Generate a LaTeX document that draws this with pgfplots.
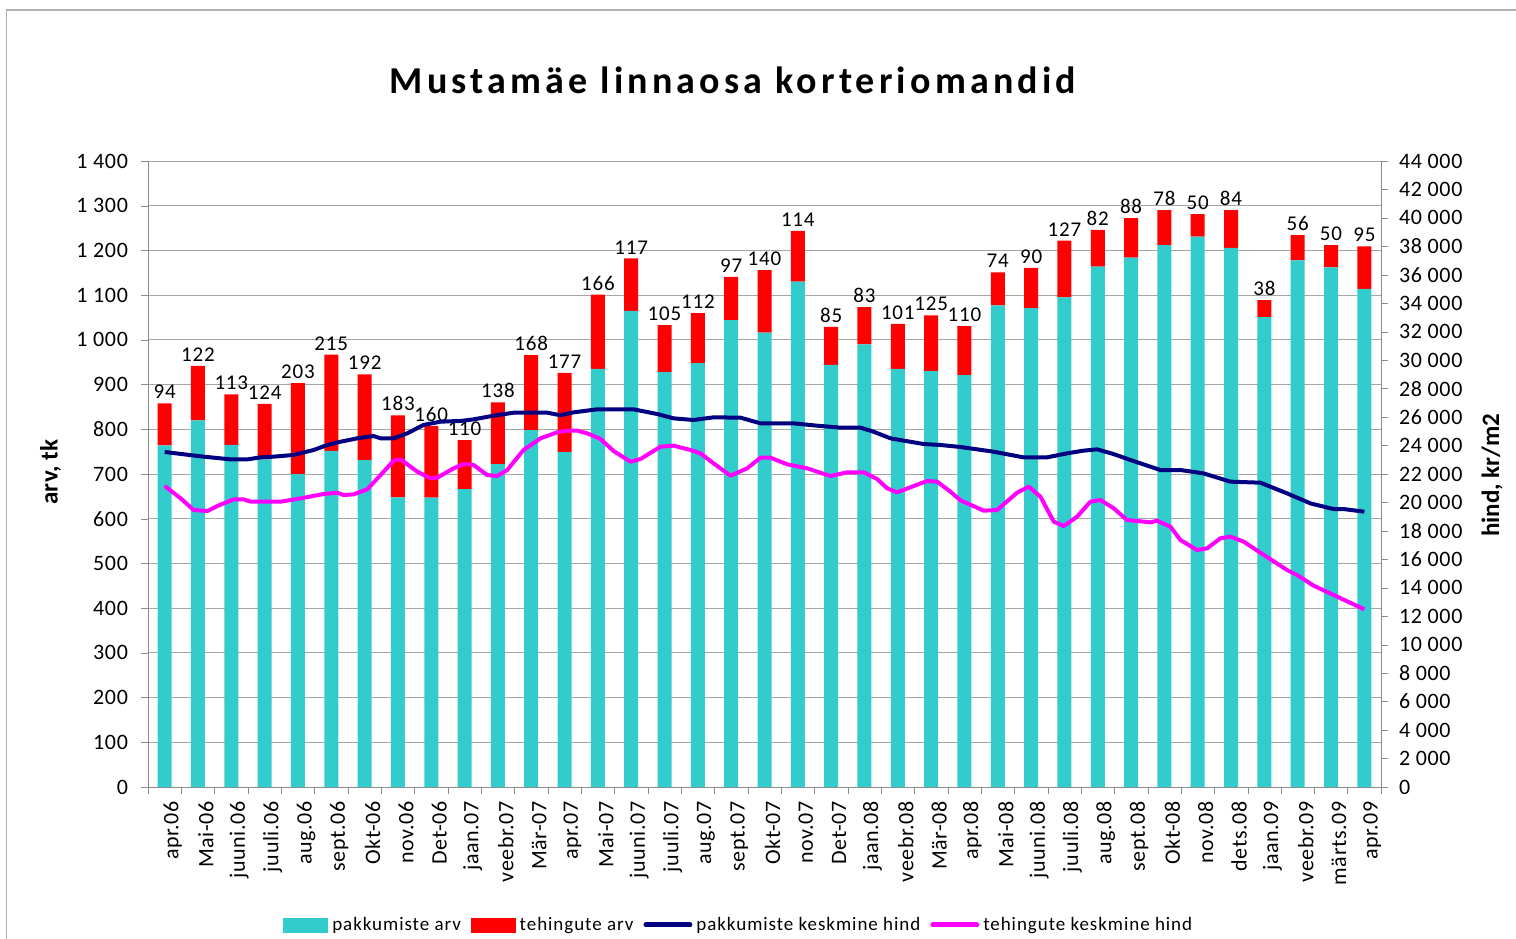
\documentclass[border=0pt]{standalone}
\usepackage{pgfplots}
\usepackage{pgfplotstable}
\pgfplotsset{compat=1.18}
\usepackage{fontspec}
\setmainfont{Carlito}
\definecolor{cyanbar}{RGB}{51,204,204}
\definecolor{redbar}{RGB}{255,0,0}
\definecolor{navyline}{RGB}{0,0,128}
\definecolor{pinkline}{RGB}{255,0,255}
\definecolor{axgray}{RGB}{140,140,140}
\pgfplotsset{/pgf/number format/assume math mode=true}

% x = month index, p = pakkumiste arv, t = tehingute arv
\pgfplotstableread{
x p t
0 764 94
1 820 122
2 765 113
3 733 124
4 700 203
5 752 215
6 731 192
7 648 183
8 647 160
9 666 110
10 722 138
11 798 168
12 749 177
13 935 166
14 1065 117
15 928 105
16 948 112
17 1044 97
18 1016 140
19 1130 114
20 944 85
21 990 83
22 935 101
23 930 125
24 921 110
25 1077 74
26 1071 90
27 1095 127
28 1164 82
29 1184 88
30 1212 78
31 1231 50
32 1206 84
33 1051 38
34 1178 56
35 1162 50
36 1114 95
}\bardata

\begin{document}
\begin{tikzpicture}
\useasboundingbox (0,0) rectangle (758pt,-469pt);
\draw[gray!60, line width=0.7pt] (3.3pt,-475pt) -- (3.3pt,-5pt) -- (765pt,-5pt);
\node[font=\fontsize{19}{22}\selectfont\bfseries\addfontfeatures{LetterSpace=11}] at (366.5pt,-40pt) {Mustamäe linnaosa korteriomandid};

% bars: left axis
\begin{axis}[
  at={(74pt,-393.5pt)}, anchor=south west,
  scale only axis, width=616.5pt, height=313pt,
  xmin=-0.5, xmax=36.5, ymin=0, ymax=1400,
  enlargelimits=false,
  axis x line*=bottom, axis y line*=left,
  axis line style={axgray},
  ybar stacked, bar width=7pt,
  xtick={-0.5,0.5,...,36.5}, xticklabels={},
  ytick={0,100,...,1400},
  tick align=outside, major tick length=3.5pt,
  tick style={axgray},
  ymajorgrids, grid style={gray!70, line width=0.5pt},
  /pgf/number format/1000 sep={\ },
  yticklabel style={font=\fontsize{11}{13}\selectfont\addfontfeatures{LetterSpace=3}, xshift=-3pt},
  ylabel={arv, tk},
  ylabel style={at={(axis description cs:-0.079,0.503)}, anchor=center, font=\fontsize{12.5}{14}\selectfont\bfseries},
]
\addplot[fill=cyanbar, draw=none] table[x=x, y=p] {\bardata};
\addplot[fill=redbar, draw=none] table[x=x, y=t] {\bardata};
\end{axis}

% data labels (tehingute arv) on top of each bar
\begin{axis}[
  at={(74pt,-393.5pt)}, anchor=south west,
  scale only axis, width=616.5pt, height=313pt,
  xmin=-0.5, xmax=36.5, ymin=0, ymax=1400,
  enlargelimits=false, hide axis, clip=false,
]
\addplot[draw=none, mark=none, point meta=\thisrow{t},
  nodes near coords,
  nodes near coords style={font=\fontsize{10.5}{12}\selectfont\addfontfeatures{LetterSpace=4}, anchor=south, inner sep=2pt, text=black}]
  table[x=x, y expr=\thisrow{p}+\thisrow{t}] {\bardata};
\end{axis}

% lines: right axis
\begin{axis}[
  at={(74pt,-393.5pt)}, anchor=south west,
  scale only axis, width=616.5pt, height=313pt,
  xmin=-0.5, xmax=36.5, ymin=0, ymax=44000,
  enlargelimits=false,
  axis x line*=bottom, axis y line*=right,
  x axis line style={draw=none},
  y axis line style={axgray},
  xtick={0,...,36},
  xticklabels={apr.06,Mai-06,juuni.06,juuli.06,aug.06,sept.06,Okt-06,nov.06,Det-06,jaan.07,veebr.07,Mär-07,apr.07,Mai-07,juuni.07,juuli.07,aug.07,sept.07,Okt-07,nov.07,Det-07,jaan.08,veebr.08,Mär-08,apr.08,Mai-08,juuni.08,juuli.08,aug.08,sept.08,Okt-08,nov.08,dets.08,jaan.09,veebr.09,märts.09,apr.09},
  xtick style={draw=none},
  xticklabel style={rotate=90, anchor=east, font=\fontsize{11}{13}\selectfont\addfontfeatures{LetterSpace=3}, yshift=-4pt},
  ytick={0,2000,...,44000},
  tick align=outside, major tick length=3.5pt,
  ytick style={axgray},
  /pgf/number format/1000 sep={\ },
  scaled y ticks=false,
  yticklabel style={font=\fontsize{11}{13}\selectfont\addfontfeatures{LetterSpace=3}, xshift=2pt},
  ylabel={hind, kr/m2},
  ylabel style={at={(axis description cs:1.09,0.498)}, anchor=center, font=\fontsize{12.5}{14}\selectfont\bfseries},
  legend columns=-1,
  legend style={at={(axis description cs:0.48,-0.2204)}, anchor=center, draw=none, fill=none,
    font=\fontsize{9.5}{11}\selectfont\addfontfeatures{LetterSpace=5},
    /tikz/every even column/.append style={column sep=3pt}},
  legend cell align=left,
]
\addlegendimage{legend image code/.code={\fill[cyanbar] (0pt,-3.5pt) rectangle (22pt,3.5pt);}}
\addlegendimage{legend image code/.code={\fill[redbar] (0pt,-3.5pt) rectangle (22pt,3.5pt);}}
\addplot[navyline, line width=2pt, line join=round,
  legend image code/.code={\draw[navyline, line width=2.5pt, line cap=round] (0pt,0pt) -- (22pt,0pt);}]
  coordinates {
(0,23550)(0.98,23270)(1.38,23170)(1.98,23030)(2.48,23030)(2.88,23170)(3.27,23220)(3.87,23340)
(4.47,23690)(4.88,24040)(5.28,24270)(5.78,24510)(6.27,24670)(6.48,24510)(6.87,24510)(7.28,24860)
(7.77,25450)(8.28,25680)(8.88,25730)(9.27,25840)(9.87,26100)(10.47,26310)(11.48,26310)(11.88,26130)
(12.27,26335)(12.98,26546)(14.07,26546)(14.78,26218)(15.27,25914)(15.87,25796)(16.47,25984)(17.28,25961)
(17.88,25562)(18.87,25562)(19.58,25398)(20.28,25257)(20.88,25257)(21.27,24976)(21.78,24508)(22.77,24109)
(23.28,24039)(23.88,23900)(24.87,23570)(25.77,23172)(26.48,23172)(27.08,23453)(27.57,23641)(27.98,23735)
(28.47,23406)(29.07,22914)(29.88,22282)(30.48,22282)(31.17,22048)(31.98,21462)(32.88,21390)(33.68,20640)
(34.38,19937)(35.07,19540)(35.37,19540)(36,19350)
};
\addplot[pinkline, line width=2pt, line join=round,
  legend image code/.code={\draw[pinkline, line width=2.5pt, line cap=round] (0pt,0pt) -- (22pt,0pt);}]
  coordinates {
(0,21157)(0.48,20290)(0.87,19470)(1.28,19400)(1.58,19751)(2.07,20220)(2.37,20220)(2.58,20056)
(3.48,20056)(4.08,20290)(4.77,20594)(5.18,20687)(5.37,20524)(5.67,20570)(6.08,20922)(6.48,21930)
(6.87,22937)(7.08,23031)(7.58,22165)(7.98,21697)(8.18,21743)(8.67,22399)(8.98,22703)(9.27,22633)
(9.68,21930)(9.98,21860)(10.28,22282)(10.77,23688)(11.28,24508)(11.78,24930)(12.08,25046)(12.38,25046)
(12.68,24859)(13.08,24461)(13.47,23617)(13.98,22867)(14.28,23055)(14.88,23922)(15.27,23993)(15.78,23688)
(16.08,23453)(16.47,22750)(16.98,21883)(17.48,22399)(17.88,23148)(18.18,23148)(18.68,22680)(19.28,22399)
(19.58,22165)(19.98,21860)(20.48,22118)(20.98,22118)(21.38,21649)(21.68,20993)(21.98,20711)(22.48,21157)
(22.88,21508)(23.18,21462)(23.58,20757)(23.88,20150)(24.58,19424)(24.98,19470)(25.58,20687)(25.93,21110)
(26.28,20406)(26.68,18650)(26.98,18345)(27.38,19000)(27.78,20056)(28.08,20173)(28.48,19587)(28.88,18767)
(29.58,18603)(29.78,18720)(30.18,18298)(30.48,17361)(30.98,16659)(31.28,16776)(31.68,17479)(31.98,17596)
(32.38,17244)(32.88,16471)(33.68,15253)(33.98,14901)(34.48,14150)(35.08,13495)(36,12490)
};
\legend{pakkumiste arv, tehingute arv, pakkumiste keskmine hind, tehingute keskmine hind}
\end{axis}
\end{tikzpicture}
\end{document}
